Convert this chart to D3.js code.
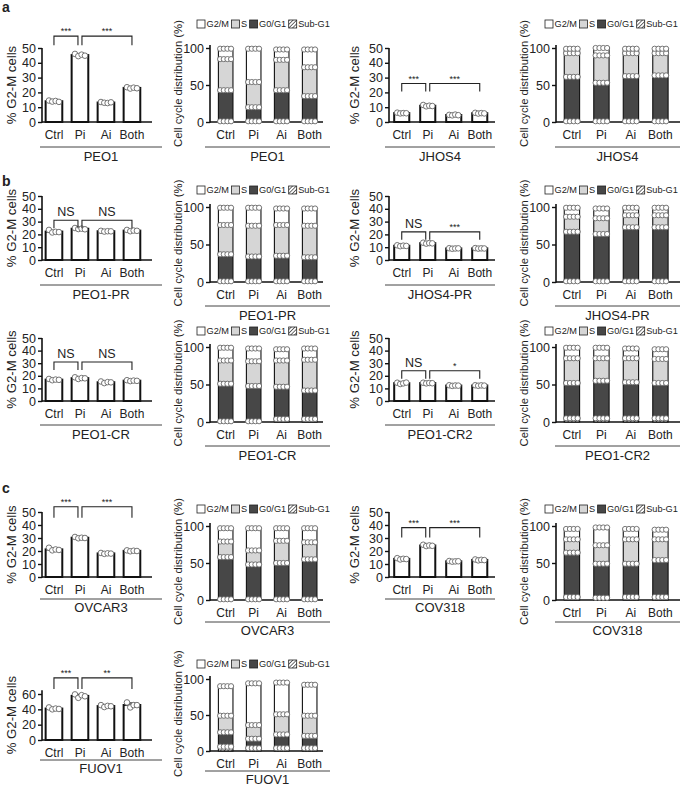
<!DOCTYPE html>
<html>
<head>
<meta charset="utf-8">
<script src="https://cdn.jsdelivr.net/npm/d3@7"></script>
<style>
  body { margin: 0; background: #fff; }
  svg { display: block; }
  text { font-family: "Liberation Sans", Arial, sans-serif; fill: #222; }
</style>
</head>
<body>
<svg id="fig" width="685" height="791"></svg>
<script>
'use strict';

var conditions = ["Ctrl", "Pi", "Ai", "Both"];
var phases = ["G2/M", "S", "G0/G1", "Sub-G1"];

// % G2-M cells, replicate values per condition
var g2mPEO1    = [[14.5, 13.8, 14.2, 13.6], [46.0, 44.5, 45.5, 44.8], [13.5, 13.0, 12.8, 13.3], [23.5, 22.6, 23.2, 22.8]];
var g2mJHOS4   = [[6.3, 5.8, 6.0, 5.9], [11.5, 10.6, 11.0, 10.8], [4.8, 4.5, 5.0, 4.6], [6.2, 5.7, 6.0, 5.8]];
var g2mPEO1PR  = [[23.5, 21.5, 22.0, 21.8], [25.0, 24.2, 24.5, 24.0], [22.8, 22.2, 22.5, 22.4], [23.5, 22.5, 23.0, 22.8]];
var g2mJHOS4PR = [[11.5, 10.8, 11.2, 11.0], [13.5, 12.8, 13.2, 13.0], [9.2, 8.8, 9.0, 9.1], [9.3, 8.9, 9.1, 9.0]];
var g2mPEO1CR  = [[17.5, 16.5, 17.0, 16.8], [18.8, 17.5, 18.2, 18.0], [15.5, 14.2, 15.0, 14.8], [16.5, 15.8, 16.2, 16.0]];
var g2mPEO1CR2 = [[14.5, 13.5, 14.0, 14.6], [14.5, 14.0, 14.3, 14.1], [12.5, 12.0, 12.3, 12.2], [12.5, 12.1, 12.4, 12.2]];
var g2mOVCAR3  = [[22.5, 20.5, 21.2, 20.8], [30.8, 29.8, 30.2, 30.0], [18.5, 17.8, 18.2, 18.0], [20.5, 19.8, 20.2, 20.0]];
var g2mCOV318  = [[14.5, 13.5, 14.0, 13.8], [24.8, 23.8, 24.3, 24.0], [12.3, 11.8, 12.0, 12.1], [13.5, 12.8, 13.2, 13.0]];
var g2mFUOV1   = [[42.5, 40.0, 41.0, 40.5], [59.5, 55.0, 58.5, 57.0], [45.5, 43.0, 44.5, 44.0], [49.0, 42.5, 45.5, 45.5]];

// significance labels: [Ctrl vs Pi, Pi vs Both]
var sigPEO1 = ["***", "***"], sigJHOS4 = ["***", "***"];
var sigPEO1PR = ["NS", "NS"], sigJHOS4PR = ["NS", "***"];
var sigPEO1CR = ["NS", "NS"], sigPEO1CR2 = ["NS", "*"];
var sigOVCAR3 = ["***", "***"], sigCOV318 = ["***", "***"];
var sigFUOV1 = ["***", "**"];

// cell cycle distribution (%) per condition: [Sub-G1, G0/G1, S, G2/M]
var ccPEO1    = [[1, 42, 42, 14], [1, 19, 34, 45], [1, 42, 41, 14], [1, 34, 39, 24]];
var ccJHOS4   = [[1, 60, 32, 6], [1, 52, 37, 10], [1, 61, 31, 6], [1, 62, 30, 6]];
var ccPEO1PR  = [[1, 36, 39, 23], [1, 33, 41, 24], [1, 34, 41, 22], [1, 32, 42, 23]];
var ccJHOS4PR = [[1, 66, 20, 12], [1, 63, 21, 13], [1, 72, 16, 10], [1, 72, 16, 10]];
var ccPEO1CR  = [[1, 50, 31, 17], [1, 47, 33, 17], [4, 43, 35, 15], [4, 38, 41, 15]];
var ccPEO1CR2 = [[5, 47, 33, 14], [5, 50, 30, 14], [5, 48, 32, 13], [5, 47, 32, 13]];
var ccOVCAR3  = [[1, 57, 21, 18], [1, 47, 19, 30], [1, 49, 30, 17], [1, 54, 23, 19]];
var ccCOV318  = [[4, 60, 18, 14], [3, 46, 25, 24], [4, 45, 33, 14], [4, 50, 28, 13]];
var ccFUOV1   = [[6, 20, 23, 41], [4, 13, 19, 58], [4, 19, 28, 44], [4, 17, 28, 43]];

var barTicks = [0, 10, 20, 30, 40, 50];
var barTicksFUOV1 = [0, 20, 40, 60];
var stackTicks = [0, 50, 100];

var svg = d3.select("#fig");
var fillFor = {"G2/M": "#ffffff", "S": "#d6d6d6", "G0/G1": "#474747", "Sub-G1": "url(#hatch)"};

var defs = svg.append("defs");
var pat = defs.append("pattern").attr("id", "hatch").attr("patternUnits", "userSpaceOnUse")
  .attr("width", 2.6).attr("height", 2.6).attr("patternTransform", "rotate(45)");
pat.append("rect").attr("width", 2.6).attr("height", 2.6).attr("fill", "#fff");
pat.append("line").attr("x1", 0).attr("y1", 0).attr("x2", 0).attr("y2", 2.6)
  .attr("stroke", "#222").attr("stroke-width", 1.3);

// column geometry
var cols = [
  {x0: 42, step: 26, padIn: 0.36, padOut: 0.14, axisLen: 110, titleX: 11, ul: [40, 162]},
  {x0: 210, step: 28, padIn: 0.48, padOut: 0.3, axisLen: 113, titleX: 178, ul: [205, 330], legendX: 197},
  {x0: 389, step: 26, padIn: 0.42, padOut: 0.2, axisLen: 106, titleX: 354, ul: [385, 495]},
  {x0: 556, step: 29.5, padIn: 0.48, padOut: 0.28, axisLen: 124, titleX: 524, ul: [555, 680], legendX: 545}
];

function xScale(c) {
  var w = c.step * (conditions.length - c.padIn + 2 * c.padOut);
  return d3.scaleBand().domain(conditions).range([c.x0, c.x0 + w])
    .paddingInner(c.padIn).paddingOuter(c.padOut);
}

// p.ul / p.lab: offsets of the underline and the cell-line label below the x axis
function frame(g, c, y, ticks, yMaxAxis, title, p) {
  var y0 = p.y0;
  var x = xScale(c);
  var ax = g.append("g").attr("transform", "translate(" + c.x0 + ",0)")
    .call(d3.axisLeft(y).tickValues(ticks).tickSize(4).tickSizeOuter(0).tickPadding(2));
  ax.select(".domain").remove();
  ax.selectAll(".tick line").attr("stroke", "#111").attr("stroke-width", 1.4);
  ax.selectAll(".tick text").style("font-size", "12.5px").attr("fill", "#222");
  g.append("line").attr("x1", c.x0).attr("x2", c.x0).attr("y1", y0 + 0.7).attr("y2", y(yMaxAxis))
    .attr("stroke", "#111").attr("stroke-width", 1.6);
  g.append("line").attr("x1", c.x0).attr("x2", c.x0 + c.axisLen).attr("y1", y0).attr("y2", y0)
    .attr("stroke", "#111").attr("stroke-width", 1.6);
  var xa = g.append("g").attr("transform", "translate(0," + y0 + ")")
    .call(d3.axisBottom(x).tickSize(0).tickPadding(p.tp || 8));
  xa.select(".domain").remove();
  xa.selectAll(".tick text").style("font-size", "12px").attr("fill", "#222");
  g.append("line").attr("x1", c.ul[0]).attr("x2", c.ul[1]).attr("y1", y0 + p.ul).attr("y2", y0 + p.ul)
    .attr("stroke", "#444").attr("stroke-width", 1);
  g.append("text").attr("x", (c.ul[0] + c.ul[1]) / 2).attr("y", y0 + p.lab)
    .attr("text-anchor", "middle").style("font-size", "13px").text(p.cell);
  var my = (y0 + y(yMaxAxis)) / 2;
  g.append("text").attr("transform", "translate(" + c.titleX + "," + my + ") rotate(-90)")
    .attr("text-anchor", "middle").attr("dy", "0.35em")
    .style("font-size", title.length > 15 ? "11.3px" : "13.2px").text(title);
  return x;
}

function barPanel(p) {
  var c = cols[p.col];
  var g = svg.append("g");
  var y = d3.scaleLinear().domain([0, p.tickMax]).range([p.y0, p.yTop]);
  var x = frame(g, c, y, p.ticks, p.axisMax, "% G2-M cells", p);
  var bw = x.bandwidth();
  var rows = conditions.map(function (k, i) {
    return {k: k, reps: p.data[i], mean: d3.mean(p.data[i]), sd: d3.deviation(p.data[i])};
  });
  g.selectAll("rect.bar").data(rows).enter().append("rect")
    .attr("x", function (d) { return x(d.k); })
    .attr("y", function (d) { return y(d.mean); })
    .attr("width", bw)
    .attr("height", function (d) { return p.y0 - y(d.mean); })
    .attr("fill", "#fff").attr("stroke", "#111").attr("stroke-width", 2);
  rows.forEach(function (d) {
    var cx = x(d.k) + bw / 2;
    g.append("line").attr("x1", cx).attr("x2", cx)
      .attr("y1", y(d.mean - d.sd)).attr("y2", y(d.mean + d.sd))
      .attr("stroke", "#111").attr("stroke-width", 1.2);
    g.append("line").attr("x1", cx - 3.5).attr("x2", cx + 3.5)
      .attr("y1", y(d.mean + d.sd)).attr("y2", y(d.mean + d.sd))
      .attr("stroke", "#111").attr("stroke-width", 1.2);
    g.selectAll(null).data(d.reps).enter().append("circle")
      .attr("cx", function (v, j) { return cx + (j - 1.5) * bw * 0.2; })
      .attr("cy", function (v) { return y(v); })
      .attr("r", 2.8).attr("fill", "#fff").attr("stroke", "#666").attr("stroke-width", 0.9);
  });
  // brackets
  var by = y(p.brk);
  var xc = function (k) { return x(k) + bw / 2; };
  var pairs = [[xc("Ctrl"), xc("Pi") - 2], [xc("Pi") + 2, xc("Both")]];
  pairs.forEach(function (pr, i) {
    g.append("path")
      .attr("d", "M" + pr[0] + "," + (by + p.leg) + "V" + by + "H" + pr[1] + "V" + (by + p.leg))
      .attr("fill", "none").attr("stroke", "#222").attr("stroke-width", 1.1);
    var lab = p.sig[i];
    g.append("text").attr("x", (pr[0] + pr[1]) / 2)
      .attr("y", lab === "NS" ? by - 4 : by - 2)
      .attr("text-anchor", "middle")
      .style("font-size", lab === "NS" ? "12.5px" : "9px").text(lab);
  });
}

function legend(x0, ly) {
  var g = svg.append("g");
  var cx = x0;
  phases.forEach(function (ph) {
    g.append("rect").attr("x", cx).attr("y", ly - 4).attr("width", 8).attr("height", 8)
      .attr("fill", fillFor[ph]).attr("stroke", "#222").attr("stroke-width", 0.8);
    var t = g.append("text").attr("x", cx + 9.5).attr("y", ly + 3.4)
      .style("font-size", "9.2px").text(ph);
    cx += 9.5 + t.node().getComputedTextLength() + 2.5;
  });
}

function stackPanel(p) {
  var c = cols[p.col];
  var g = svg.append("g");
  var y = d3.scaleLinear().domain([0, 100]).range([p.y0, p.yTop]);
  var x = frame(g, c, y, stackTicks, 104, "Cell cycle distribution (%)", p);
  var bw = x.bandwidth();
  var keys = ["Sub-G1", "G0/G1", "S", "G2/M"];
  var table = conditions.map(function (k, i) {
    var o = {k: k};
    keys.forEach(function (ph, j) { o[ph] = p.data[i][j]; });
    return o;
  });
  var series = d3.stack().keys(keys)(table);
  series.forEach(function (s) {
    g.selectAll(null).data(s).enter().append("rect")
      .attr("x", function (d) { return x(d.data.k); })
      .attr("y", function (d) { return y(d[1]); })
      .attr("width", bw)
      .attr("height", function (d) { return y(d[0]) - y(d[1]); })
      .attr("fill", fillFor[s.key]).attr("stroke", "#111").attr("stroke-width", 1.1);
  });
  series.forEach(function (s) {
    s.forEach(function (d) {
      var left = x(d.data.k);
      [0, 1, 2, 3].forEach(function (j) {
        g.append("circle").attr("cx", left + bw * (0.12 + j * 0.25)).attr("cy", y(d[1]))
          .attr("r", 2.6).attr("fill", "#fff").attr("stroke", "#666").attr("stroke-width", 0.9);
      });
    });
  });
  legend(c.legendX, p.legendY);
}

function panelLetter(t, ly) {
  svg.append("text").attr("x", 2).attr("y", ly).style("font-size", "14px")
    .style("font-weight", "bold").attr("fill", "#111").text(t);
}

panelLetter("a", 12);
panelLetter("b", 186);
panelLetter("c", 493);

// row a
barPanel({col: 0, data: g2mPEO1, sig: sigPEO1, cell: "PEO1", y0: 122, yTop: 48, tickMax: 50, ticks: barTicks, axisMax: 50, brk: 58, leg: 9, ul: 25, lab: 39});
stackPanel({col: 1, data: ccPEO1, cell: "PEO1", y0: 122, yTop: 48, legendY: 24, ul: 25, lab: 39});
barPanel({col: 2, data: g2mJHOS4, sig: sigJHOS4, cell: "JHOS4", y0: 122, yTop: 48, tickMax: 50, ticks: barTicks, axisMax: 50, brk: 26, leg: 8, ul: 25, lab: 39});
stackPanel({col: 3, data: ccJHOS4, cell: "JHOS4", y0: 122, yTop: 48, legendY: 24, ul: 25, lab: 39});

// row b (PR)
barPanel({col: 0, data: g2mPEO1PR, sig: sigPEO1PR, cell: "PEO1-PR", y0: 260, yTop: 196, tickMax: 50, ticks: barTicks, axisMax: 50, brk: 31, leg: 8, ul: 25, lab: 39});
stackPanel({col: 1, data: ccPEO1PR, cell: "PEO1-PR", y0: 282, yTop: 207, legendY: 190, ul: 24, lab: 38});
barPanel({col: 2, data: g2mJHOS4PR, sig: sigJHOS4PR, cell: "JHOS4-PR", y0: 260, yTop: 196, tickMax: 50, ticks: barTicks, axisMax: 50, brk: 22, leg: 8, ul: 25, lab: 39});
stackPanel({col: 3, data: ccJHOS4PR, cell: "JHOS4-PR", y0: 282, yTop: 207, legendY: 190, ul: 24, lab: 38});

// row b (CR)
barPanel({col: 0, data: g2mPEO1CR, sig: sigPEO1CR, cell: "PEO1-CR", y0: 401, yTop: 338, tickMax: 50, ticks: barTicks, axisMax: 50, brk: 31, leg: 8, ul: 24, lab: 38});
stackPanel({col: 1, data: ccPEO1CR, cell: "PEO1-CR", y0: 422, yTop: 347, legendY: 331, ul: 24, lab: 38});
barPanel({col: 2, data: g2mPEO1CR2, sig: sigPEO1CR2, cell: "PEO1-CR2", y0: 401, yTop: 338, tickMax: 50, ticks: barTicks, axisMax: 50, brk: 24, leg: 8, ul: 24, lab: 38});
stackPanel({col: 3, data: ccPEO1CR2, cell: "PEO1-CR2", y0: 422, yTop: 347, legendY: 331, ul: 24, lab: 38});

// row c
barPanel({col: 0, data: g2mOVCAR3, sig: sigOVCAR3, cell: "OVCAR3", y0: 577, yTop: 512, tickMax: 50, ticks: barTicks, axisMax: 50, brk: 54, leg: 11, ul: 22, lab: 35});
stackPanel({col: 1, data: ccOVCAR3, cell: "OVCAR3", y0: 600, yTop: 526, legendY: 509, ul: 22, lab: 35});
barPanel({col: 2, data: g2mCOV318, sig: sigCOV318, cell: "COV318", y0: 577, yTop: 512, tickMax: 50, ticks: barTicks, axisMax: 50, brk: 38, leg: 10, ul: 22, lab: 35});
stackPanel({col: 3, data: ccCOV318, cell: "COV318", y0: 600, yTop: 526, legendY: 509, ul: 22, lab: 35});

barPanel({col: 0, data: g2mFUOV1, sig: sigFUOV1, cell: "FUOV1", y0: 740, yTop: 694, tickMax: 60, ticks: barTicksFUOV1, axisMax: 65, brk: 81, leg: 11, ul: 20, lab: 33});
stackPanel({col: 1, data: ccFUOV1, cell: "FUOV1", y0: 751, yTop: 679, legendY: 664, ul: 20, lab: 33});
</script>
</body>
</html>
